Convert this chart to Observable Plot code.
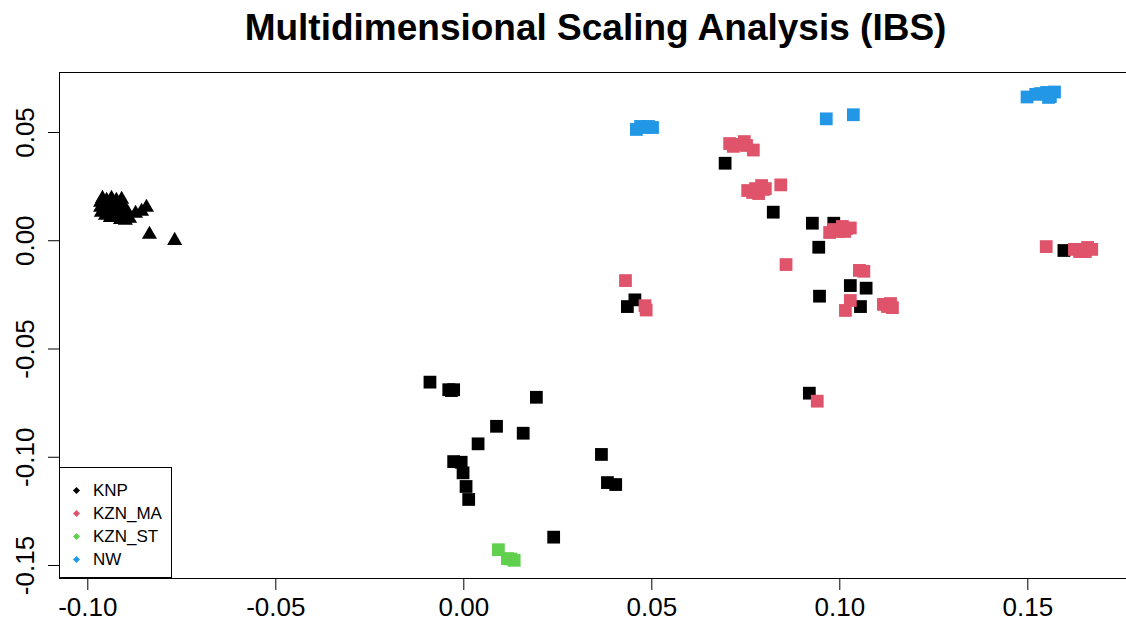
<!DOCTYPE html>
<html>
<head>
<meta charset="utf-8">
<script src="https://cdn.jsdelivr.net/npm/d3@7"></script>
<script src="https://cdn.jsdelivr.net/npm/@observablehq/plot@0.6"></script>
<style>
  body { margin: 0; background: #fff; }
  #wrap { position: relative; width: 1126px; height: 622px; overflow: hidden; }
  #legend { position: absolute; left: 59px; top: 467px; width: 113px; height: 111px; box-sizing: border-box;
            border: 1px solid #000; background: #fff; font-family: "Liberation Sans", Arial, sans-serif; font-size: 17px; color: #000; }
  .row { position: absolute; left: 0; height: 20px; line-height: 20px; width: 100%; }
  .mk { position: absolute; left: 13.5px; top: 7.5px; width: 5px; height: 5px; transform: rotate(45deg); }
  .lb { position: absolute; left: 33px; top: 0; white-space: pre; }
</style>
</head>
<body>
<div id="wrap"></div>
<script>
// ---------------- data ----------------
const title = "Multidimensional Scaling Analysis (IBS)";
const groups = ["KNP", "KZN_MA", "KZN_ST", "NW"];
const groupColors = ["#000000", "#DF536B", "#61D04F", "#2297E6"];
const xTicks = [-0.10, -0.05, 0.00, 0.05, 0.10, 0.15];
const yTicks = [-0.15, -0.10, -0.05, 0.00, 0.05];

// KNP samples drawn as triangles (left cluster)
const knpTriangles = [
  [-0.0966, 0.0177], [-0.0966, 0.0154], [-0.0964, 0.0131], [-0.0961, 0.0195], [-0.0958, 0.0163],
  [-0.0956, 0.0140], [-0.0953, 0.0117], [-0.0950, 0.0186], [-0.0948, 0.0167], [-0.0945, 0.0149],
  [-0.0942, 0.0126], [-0.0940, 0.0107], [-0.0937, 0.0195], [-0.0934, 0.0172], [-0.0932, 0.0154],
  [-0.0929, 0.0135], [-0.0926, 0.0112], [-0.0924, 0.0186], [-0.0921, 0.0163], [-0.0918, 0.0144],
  [-0.0916, 0.0121], [-0.0913, 0.0098], [-0.0910, 0.0191], [-0.0908, 0.0167], [-0.0905, 0.0140],
  [-0.0902, 0.0117], [-0.0900, 0.0094], [-0.0894, 0.0131], [-0.0889, 0.0103], [-0.0873, 0.0126],
  [-0.0857, 0.0135], [-0.0844, 0.0154], [-0.0836, 0.0029], [-0.0769, 0.0001]
];
// KNP samples drawn as squares
const knpSquares = [
  [-0.0090, -0.0653], [-0.0040, -0.0688], [-0.0027, -0.0688], [-0.0033, -0.0692], [0.0193, -0.0723],
  [0.0087, -0.0857], [0.0158, -0.0889], [0.0038, -0.0938], [-0.0027, -0.1020], [-0.0007, -0.1023],
  [-0.0002, -0.1072], [0.0006, -0.1135], [0.0013, -0.1195], [0.0239, -0.1369], [0.0366, -0.0987],
  [0.0382, -0.1117], [0.0404, -0.1126], [0.0695, 0.0358], [0.0823, 0.0132], [0.0927, 0.0081],
  [0.0984, 0.0081], [0.0944, -0.0030], [0.0946, -0.0256], [0.1028, -0.0207], [0.1070, -0.0219],
  [0.1055, -0.0304], [0.0919, -0.0704], [0.0455, -0.0273], [0.0435, -0.0304], [0.1596, -0.0045]
];
const kznMA = [
  [0.0707, 0.0449], [0.0717, 0.0436], [0.0728, 0.0445], [0.0746, 0.0458], [0.0752, 0.0440], [0.0770, 0.0419],
  [0.0755, 0.0232], [0.0768, 0.0223], [0.0776, 0.0241], [0.0784, 0.0218], [0.0792, 0.0255], [0.0797, 0.0237],
  [0.0802, 0.0241], [0.0843, 0.0258],
  [0.0973, 0.0038], [0.0983, 0.0052], [0.0996, 0.0043], [0.1007, 0.0066], [0.1018, 0.0057], [0.1028, 0.0059],
  [0.1013, 0.0043],
  [0.0857, -0.0110], [0.1052, -0.0137], [0.1064, -0.0141], [0.1028, -0.0276], [0.1015, -0.0322],
  [0.1116, -0.0294], [0.1127, -0.0304], [0.1135, -0.0290], [0.1140, -0.0309],
  [0.0430, -0.0184], [0.0482, -0.0300], [0.0485, -0.0320], [0.0940, -0.0741],
  [0.1549, -0.0027], [0.1624, -0.0040], [0.1638, -0.0050], [0.1648, -0.0040], [0.1659, -0.0031],
  [0.1670, -0.0040], [0.1653, -0.0050]
];
const kznST = [
  [0.0092, -0.1427], [0.0116, -0.1468], [0.0125, -0.1470], [0.0134, -0.1476]
];
const nw = [
  [0.0459, 0.0514], [0.0470, 0.0528], [0.0483, 0.0523], [0.0491, 0.0528], [0.0502, 0.0523],
  [0.0964, 0.0563], [0.1036, 0.0582],
  [0.1498, 0.0664], [0.1521, 0.0676], [0.1534, 0.0680], [0.1550, 0.0685], [0.1560, 0.0666],
  [0.1571, 0.0687], [0.1555, 0.0662]
];

// ---------------- chart ----------------
const font = "'Liberation Sans', Arial, Helvetica, sans-serif";
const sq = {x: d => d[0], y: d => d[1], symbol: "square", r: 7.2};

const chart = Plot.plot({
  width: 1126,
  height: 622,
  marginLeft: 59,
  marginRight: -5,
  marginTop: 72,
  marginBottom: 44,
  style: {fontFamily: font, fontSize: "26px", color: "#000", background: "#fff"},
  x: {domain: [-0.10753, 0.17758]},
  y: {domain: [-0.1560, 0.07771]},
  marks: [
    Plot.frame({stroke: "#000", strokeWidth: 1}),
    Plot.axisX(xTicks, {tickSize: 12, tickPadding: 7, fontSize: 26, tickFormat: d => d.toFixed(2)}),
    Plot.axisY(yTicks, {tickSize: 11, tickFormat: () => ""}),
    Plot.text(yTicks, {y: d => d, text: d => d.toFixed(2), frameAnchor: "left", dx: -34, rotate: -90,
      fontSize: 26, textAnchor: "middle", lineAnchor: "middle", fill: "#000"}),
    Plot.dot(knpTriangles, {x: d => d[0], y: d => d[1], symbol: "triangle", r: 5.6, fill: groupColors[0]}),
    Plot.dot(knpSquares, {...sq, fill: groupColors[0]}),
    Plot.dot(kznMA, {...sq, fill: groupColors[1]}),
    Plot.dot(kznST, {...sq, fill: groupColors[2]}),
    Plot.dot(nw, {...sq, fill: groupColors[3]}),
    Plot.text([title], {text: d => d, frameAnchor: "top", dy: -44, fontSize: 37, fontWeight: "bold",
      lineAnchor: "middle", fill: "#000"})
  ]
});

const wrap = document.getElementById("wrap");
wrap.appendChild(chart);

// legend (base-R style box in the lower-left corner)
const legend = document.createElement("div");
legend.id = "legend";
groups.forEach((g, i) => {
  const row = document.createElement("div");
  row.className = "row";
  row.style.top = (12.5 + 23 * i) + "px";
  const mk = document.createElement("span");
  mk.className = "mk";
  mk.style.background = groupColors[i];
  const lb = document.createElement("span");
  lb.className = "lb";
  lb.textContent = g;
  row.appendChild(mk);
  row.appendChild(lb);
  legend.appendChild(row);
});
wrap.appendChild(legend);
</script>
</body>
</html>
